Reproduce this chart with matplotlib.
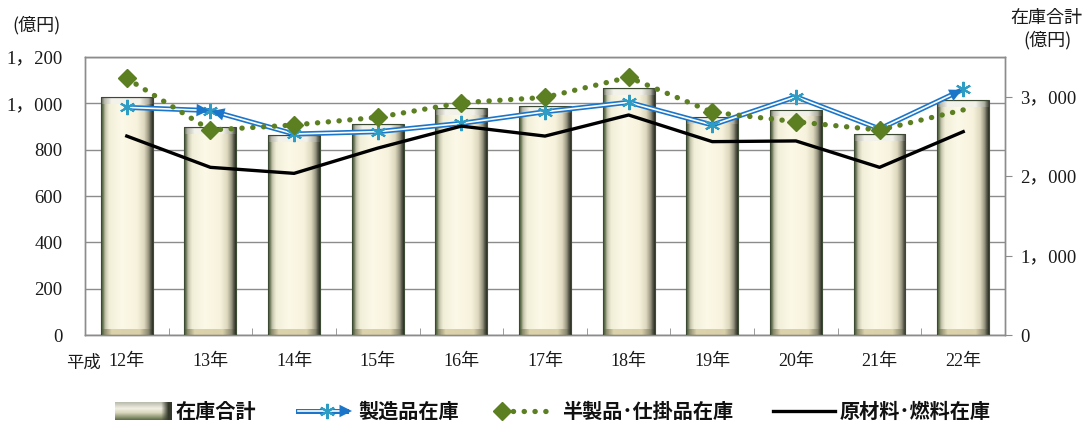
import numpy as np
import matplotlib
matplotlib.use('Agg')
import matplotlib.pyplot as plt
from matplotlib.colors import LinearSegmentedColormap

plt.rcParams['font.family'] = ['Noto Sans CJK JP', 'DejaVu Sans']

# データ（平成12年～22年）
years = ['12年', '13年', '14年', '15年', '16年', '17年', '18年', '19年', '20年', '21年', '22年']
total_stock = [3000, 2620, 2520, 2660, 2860, 2880, 3110, 2750, 2840, 2535, 2955]   # 在庫合計（右軸）
finished = [983, 969, 868, 878, 914, 964, 1005, 907, 1029, 890, 1061]              # 製造品在庫
semi_wip = [1108, 885, 907, 940, 1003, 1026, 1113, 962, 921, 885, 972]              # 半製品・仕掛品在庫
raw_fuel = [859, 724, 698, 807, 902, 859, 950, 835, 838, 724, 878]                  # 原材料・燃料在庫
left_ticks = [0, 200, 400, 600, 800, 1000, 1200]
right_ticks = [0, 1000, 2000, 3000]

SERIF = ['Liberation Serif', 'Noto Sans CJK JP']
GRID = '#8c8c8c'
BLUE = '#1b76c9'
TEAL = '#2f9cc3'
GREEN = '#5c7f22'


def fw(v):
    return f'{v:,}'.replace(',', '，')


def hgrad(stops, n=80):
    cm = LinearSegmentedColormap.from_list('g', stops)
    return cm(np.linspace(0, 1, n))[None, :, :3]


body = hgrad([(0.0, '#3a5530'), (0.03, '#6a7656'), (0.08, '#c8c6ae'), (0.15, '#f1eed8'),
              (0.4, '#fcf9e8'), (0.7, '#f7f2dc'), (0.84, '#dcd7bd'), (0.92, '#9c9a84'),
              (0.97, '#55564a'), (1.0, '#2e3326')])
top = np.repeat(hgrad([(0.0, '#5e6654'), (0.06, '#b8b8ac'), (0.2, '#f3f3ec'), (0.75, '#f2f1e9'),
                       (0.92, '#aeaea2'), (1.0, '#45473c')]), 10, axis=0)
top[:2] *= 0.85
bottom = hgrad([(0.0, '#3a5530'), (0.06, '#8a8a6a'), (0.2, '#dcd2ac'), (0.75, '#d9cfa9'),
                (0.92, '#8a8870'), (1.0, '#2e3326')])

fig = plt.figure(figsize=(10.85, 4.23), dpi=100)
ax = fig.add_axes([0.0783, 0.208, 0.848, 0.657])
ax2 = ax.twinx()
ax3 = ax.twinx()

x = np.arange(len(years))
w = 0.62

# 在庫合計（棒）
bars = ax2.bar(x, total_stock, width=w, facecolor='none', edgecolor='#3d4a33', lw=0.8, zorder=3)
for xi, v, b in zip(x, total_stock, bars):
    for img, y0, y1 in [(body, 0, v), (bottom, 0, 70), (top, v - 88, v)]:
        im = ax2.imshow(img, extent=(xi - w / 2, xi + w / 2, y0, y1), aspect='auto',
                        interpolation='bilinear', zorder=2)
        im.set_clip_path(b)

# 折れ線
ax3.plot(x, finished, color=BLUE, lw=3.6, zorder=3)
ax3.plot(x, finished, color='white', lw=1.2, zorder=3)
ax3.plot(x, finished, ls='none', marker=(6, 2, 0), ms=11, mec=TEAL, mew=1.5, zorder=4)
for a, b in [(0, 1), (2, 1), (9, 10)]:
    ax3.annotate('', xy=(x[b], finished[b]), xytext=(x[a], finished[a]),
                 arrowprops=dict(arrowstyle='-|>,head_length=0.6,head_width=0.3', color=BLUE,
                                 lw=0, mutation_scale=15, shrinkA=0, shrinkB=1), zorder=4)
ax3.plot(x, semi_wip, color=GREEN, lw=3.8, ls=(0, (0.05, 2.0)), dash_capstyle='round',
         marker='D', ms=9.5, markevery=list(range(len(years) - 1)), mfc=GREEN, mec=GREEN, zorder=5)
ax3.plot(x, raw_fuel, color='black', lw=2.4, zorder=6)

# 軸
ax.set_xlim(-0.5, len(years) - 0.5)
ax.set_ylim(0, 1200)
ax.set_yticks(left_ticks)
ax.set_yticklabels([fw(v) for v in left_ticks], family=SERIF, fontsize=13.5, color='#1a1a1a')
ax.set_xticks(x)
ax.set_xticklabels(years, family=SERIF, fontsize=13, color='#1a1a1a')
ax.set_xticks(np.arange(-0.5, len(years), 1), minor=True)
ax.tick_params(axis='y', length=0, pad=16)
ax.tick_params(axis='x', which='major', length=0, pad=13)
ax.tick_params(axis='x', which='minor', direction='in', length=5, color=GRID)
ax.grid(axis='y', color=GRID, lw=1.0)
ax.set_axisbelow(True)

ax2.set_ylim(0, 3500)
ax2.set_xlim(-0.5, len(years) - 0.5)
ax2.set_yticks(right_ticks)
ax2.set_yticklabels([fw(v) for v in right_ticks], family=SERIF, fontsize=13.5, color='#1a1a1a')
ax2.tick_params(axis='y', length=5, color=GRID, pad=6)

ax3.set_ylim(0, 1200)
ax3.set_xlim(-0.5, len(years) - 0.5)
ax3.yaxis.set_visible(False)
for s in ax3.spines.values():
    s.set_visible(False)
for a in (ax, ax2):
    for s in a.spines.values():
        s.set_color(GRID)
        s.set_linewidth(1.0)

ax.annotate('平成', xy=(-0.31, -0.1), xycoords=('data', 'axes fraction'), ha='right', va='center',
            fontsize=12.5, color='#1a1a1a')
fig.text(0.034, 0.94, '(億円)', ha='center', va='center', fontsize=13, color='#1a1a1a')
fig.text(0.964, 0.958, '在庫合計', ha='center', va='center', fontsize=13, color='#1a1a1a')
fig.text(0.965, 0.905, '(億円)', ha='center', va='center', fontsize=13, color='#1a1a1a')

# 凡例
lax = fig.add_axes([0, 0, 1, 60 / 423])
lax.axis('off')
leg_patch = np.repeat(LinearSegmentedColormap.from_list(
    'l', [(0, '#b9bbad'), (0.35, '#f2f0e2'), (0.6, '#d9d6bd'), (1, '#5f6e47')])(np.linspace(0, 1, 32))[:, None, :3], 8, axis=1)
leg_patch[:, -1] = [0.2, 0.22, 0.17]
lax.imshow(leg_patch, extent=(115, 172, 3, 20), aspect='auto', interpolation='bilinear')
lax.plot([298, 346], [12, 12], color=BLUE, lw=3.6)
lax.plot([298, 346], [12, 12], color='white', lw=1.2)
lax.plot([327], [12], ls='none', marker=(6, 2, 0), ms=11, mec=TEAL, mew=1.5)
lax.annotate('', xy=(352, 12), xytext=(300, 12),
             arrowprops=dict(arrowstyle='-|>,head_length=0.6,head_width=0.3', color=BLUE,
                             lw=0, mutation_scale=15, shrinkA=0, shrinkB=0))
lax.plot([502, 556], [12, 12], color=GREEN, lw=3.8, ls=(0, (0.05, 2.0)), dash_capstyle='round')
lax.plot([502], [12], marker='D', ms=9.5, color=GREEN)
lax.plot([773, 835], [12, 12], color='black', lw=2.4)
for tx, label in [(176, '在庫合計'), (358, '製造品在庫'), (562, '半製品･仕掛品在庫'), (840, '原材料･燃料在庫')]:
    lax.text(tx, 12, label, ha='left', va='center', fontsize=14.5, weight='bold', color='#111111')
lax.set_xlim(0, 1085)
lax.set_ylim(0, 60)

fig.savefig('out.png', dpi=100)
